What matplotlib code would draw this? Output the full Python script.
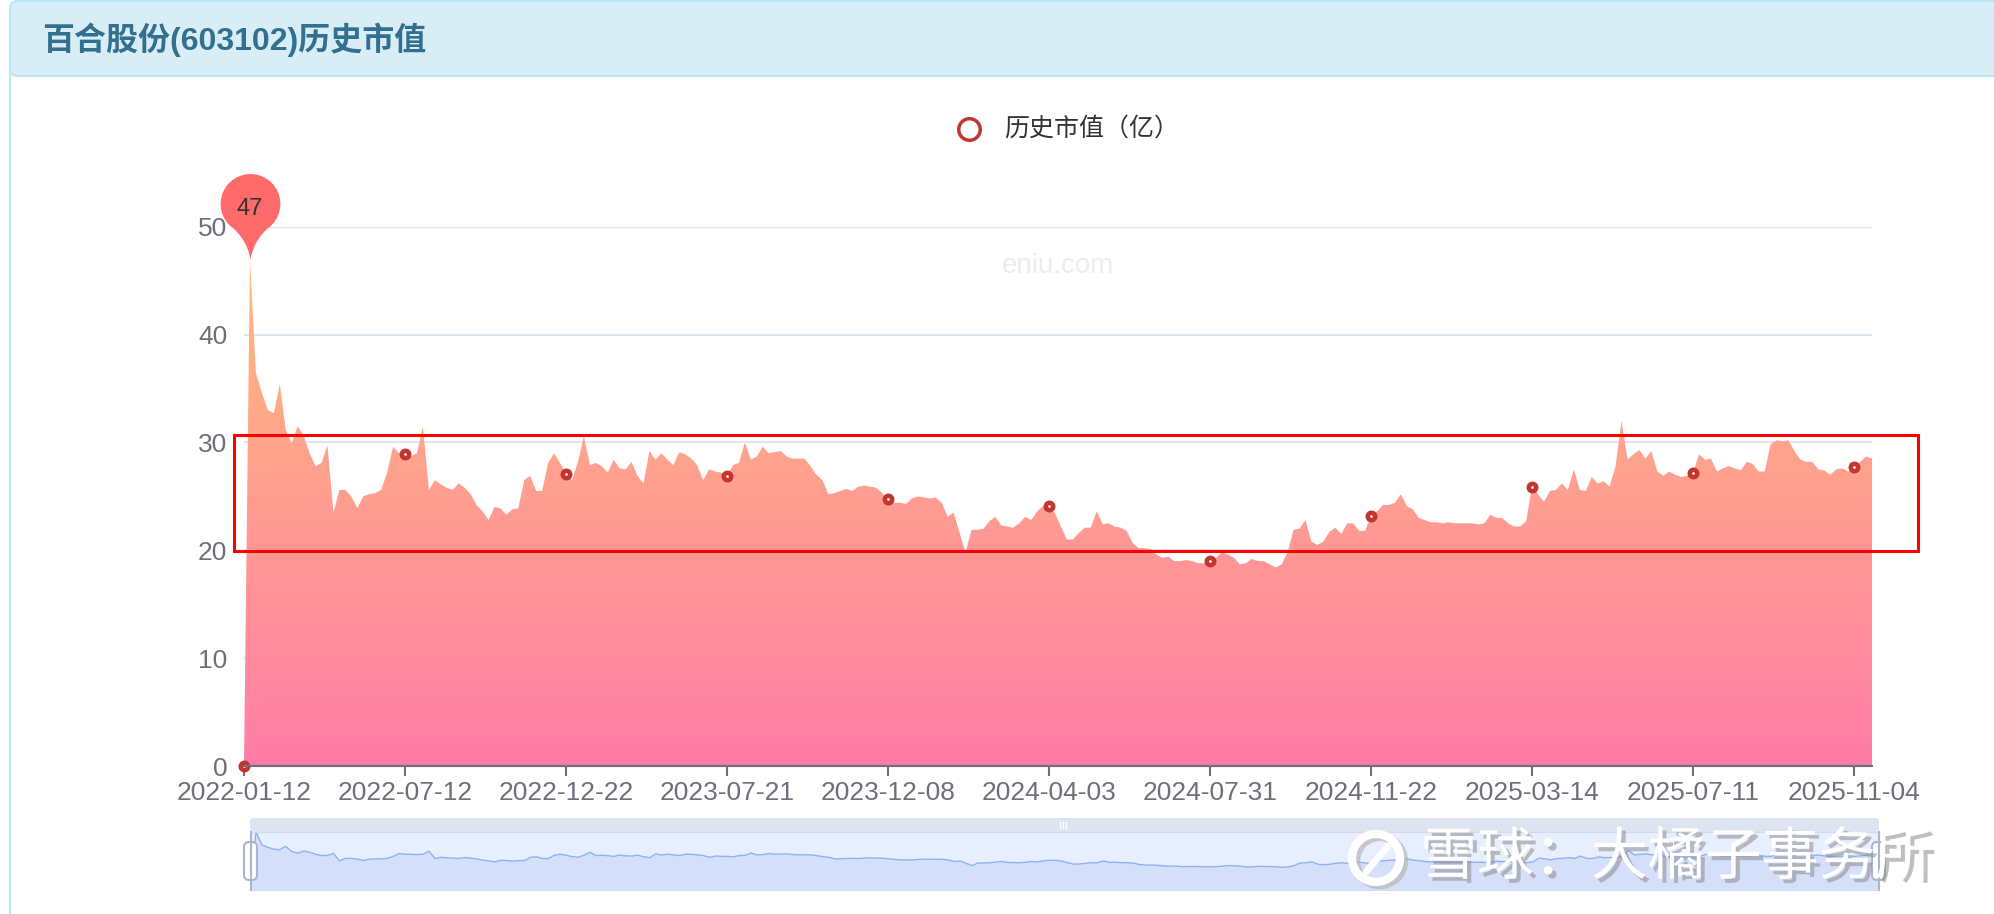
import numpy as np
import matplotlib.pyplot as plt
from matplotlib.path import Path
from matplotlib.patches import Rectangle, FancyBboxPatch, Circle
from matplotlib.colors import LinearSegmentedColormap
import matplotlib.patheffects as pe

plt.rcParams['font.family'] = ['Liberation Sans', 'Noto Sans CJK SC', 'DejaVu Sans']

# Chart data (market value, 100 million CNY), one point per sample
title = '百合股份(603102)历史市值'
series_name = '历史市值（亿）'
tick_labels = ['2022-01-12', '2022-07-12', '2022-12-22', '2023-07-21', '2023-12-08',
               '2024-04-03', '2024-07-31', '2024-11-22', '2025-03-14', '2025-07-11',
               '2025-11-04']
tick_step = 27
values = [0, 47.0, 36.4, 34.6, 33.0, 32.7, 35.4, 31.2, 29.9, 31.5,
          30.6, 29.0, 27.8, 28.1, 29.7, 23.5, 25.6, 25.6, 25.0, 23.9,
          25.0, 25.2, 25.3, 25.6, 27.2, 29.6, 29.0, 28.9, 28.7, 29.0,
          31.5, 25.6, 26.5, 26.1, 25.8, 25.6, 26.2, 25.8, 25.2, 24.2,
          23.6, 22.8, 24.0, 23.9, 23.3, 23.8, 23.9, 26.5, 26.9, 25.5,
          25.5, 28.1, 29.0, 28.1, 27.1, 26.5, 28.2, 30.6, 27.9, 28.1,
          27.8, 27.2, 28.4, 27.6, 27.5, 28.2, 26.9, 26.2, 29.2, 28.4,
          29.0, 28.4, 27.9, 29.1, 28.9, 28.5, 27.9, 26.5, 27.5, 27.3,
          27.2, 26.9, 27.9, 28.1, 30.0, 28.4, 28.7, 29.6, 29.0, 29.1,
          29.2, 28.7, 28.5, 28.5, 28.5, 27.8, 27.0, 26.5, 25.2, 25.3,
          25.5, 25.7, 25.5, 25.9, 26.0, 25.9, 25.8, 25.3, 24.8, 24.4,
          24.4, 24.3, 24.8, 25.0, 24.9, 24.8, 24.9, 24.4, 23.1, 23.5,
          21.6, 19.8, 21.9, 21.9, 22.0, 22.7, 23.1, 22.3, 22.2, 22.1,
          22.5, 23.1, 22.8, 23.6, 24.1, 24.1, 23.4, 22.2, 21.0, 21.0,
          21.6, 22.1, 22.1, 23.6, 22.4, 22.5, 22.2, 22.1, 21.8, 20.7,
          20.2, 20.2, 20.1, 19.6, 19.3, 19.4, 19.0, 19.0, 19.1, 19.0,
          18.8, 18.8, 19.0, 19.3, 19.8, 19.6, 19.3, 18.7, 18.8, 19.2,
          19.0, 19.0, 18.7, 18.4, 18.7, 19.8, 21.9, 22.0, 22.8, 20.8,
          20.5, 20.8, 21.7, 22.1, 21.5, 22.5, 22.5, 21.8, 21.8, 23.2,
          23.6, 24.2, 24.2, 24.4, 25.2, 24.1, 23.8, 23.0, 22.8, 22.6,
          22.6, 22.5, 22.6, 22.5, 22.5, 22.5, 22.5, 22.4, 22.5, 23.3,
          23.0, 23.0, 22.5, 22.2, 22.2, 22.7, 25.9, 25.2, 24.5, 25.5,
          25.6, 26.2, 25.6, 27.5, 25.6, 25.5, 26.8, 26.2, 26.4, 25.9,
          27.8, 32.0, 28.4, 28.9, 29.3, 28.5, 29.2, 27.3, 26.9, 27.3,
          27.0, 26.8, 26.9, 27.2, 28.9, 28.4, 28.5, 27.3, 27.6, 27.8,
          27.6, 27.4, 28.2, 28.0, 27.3, 27.3, 29.8, 30.2, 30.1, 30.2,
          29.2, 28.4, 28.2, 28.2, 27.5, 27.4, 27.0, 27.5, 27.6, 27.3,
          27.7, 28.2, 28.7, 28.5]

x = np.arange(len(values))
vals = np.array(values)
tick_idx = x[::tick_step][:len(tick_labels)]

W, H = 1994, 914
fig = plt.figure(figsize=(W / 100, H / 100), dpi=100)


def px_axes(x0, y0, x1, y1, **kw):
    # axes placed by pixel box (top-left origin)
    return fig.add_axes([x0 / W, 1 - y1 / H, (x1 - x0) / W, (y1 - y0) / H], **kw)


# page background: card + header
bg = fig.add_axes([0, 0, 1, 1], zorder=0)
bg.set_xlim(0, W)
bg.set_ylim(H, 0)
bg.axis('off')
bg.add_patch(FancyBboxPatch((10, 1), W + 40, H + 40, boxstyle='round,pad=0,rounding_size=8',
                            fc='white', ec='#bce8f1', lw=1.5))
bg.add_patch(FancyBboxPatch((10, 1), W + 40, 75, boxstyle='round,pad=0,rounding_size=8',
                            fc='#d9edf7', ec='#bce8f1', lw=1.5))
bg.text(42, 40, title, fontsize=23, fontweight='bold', color='#31708f', va='center')
bg.text(1058, 266, 'eniu.com', fontsize=20, color='#ececec', ha='center', va='center')

# main chart
ax = px_axes(244, 226.7, 1872, 766, zorder=2)
poly = ax.fill_between(x, vals, 0, facecolor='none', edgecolor='none')
top_c = np.array([255, 158, 68]) / 255 * 0.7 + 0.3
bot_c = np.array([255, 70, 131]) / 255 * 0.7 + 0.3
cmap = LinearSegmentedColormap.from_list('area', [bot_c, top_c])
grad = np.linspace(0, 1, 256).reshape(-1, 1)
im = ax.imshow(grad, cmap=cmap, origin='lower', aspect='auto',
               extent=[0, x[-1], 0, vals.max()], zorder=2)
im.set_clip_path(poly.get_paths()[0], transform=ax.transData)

# symbols shown at the label positions
ax.plot(tick_idx, vals[tick_idx], 'o', ms=5.3, mfc='white', mec='#c23531', mew=3.3,
        zorder=4, clip_on=False)

# pin marker at the maximum
r, cy = 1.0, 1.86
th = np.radians(np.linspace(-55, 235, 80))
arc = np.column_stack([r * np.cos(th), cy + r * np.sin(th)])
t = np.linspace(0, 1, 25)[:, None]


def quad(p0, c, p1):
    p0, c, p1 = map(np.array, (p0, c, p1))
    return (1 - t) ** 2 * p0 + 2 * (1 - t) * t * c + t ** 2 * p1


left = quad(arc[-1], (-0.1, 0.6), (0, 0))
right = quad((0, 0), (0.1, 0.6), arc[0])
verts = np.vstack([arc, left[1:], right[1:-1], arc[:1]])
pin = Path(verts, closed=True)
imax = int(vals.argmax())
ax.plot(imax, vals[imax], marker=pin, ms=123, mfc='#ff6a6a', mec='none',
        zorder=6, clip_on=False)
ax.annotate(f'{vals[imax]:.0f}', (imax, vals[imax]), xytext=(0, 36), textcoords='offset points',
            ha='center', va='center', fontsize=17, color='#333333', zorder=7)

ax.set_xlim(0, x[-1])
ax.set_ylim(0, 50)
ax.set_yticks(range(0, 51, 10))
ax.set_xticks(tick_idx)
ax.set_xticklabels(tick_labels)
ax.set_facecolor('none')
for s in ['left', 'right', 'top']:
    ax.spines[s].set_visible(False)
ax.spines['bottom'].set_color('#6e7079')
ax.spines['bottom'].set_linewidth(1.5)
ax.spines['bottom'].set_zorder(5)
ax.grid(axis='y', color='#e0e6f1', lw=1.5)
ax.set_axisbelow(True)
ax.tick_params(axis='x', length=7, width=1.5, color='#6e7079', labelsize=19,
               labelcolor='#6e7079', pad=4)
ax.tick_params(axis='y', length=0, labelsize=19, labelcolor='#6e7079', pad=12)

# data zoom slider
sl = px_axes(250, 832, 1879, 890, zorder=2)
sl.fill_between(x, vals, 0, color='#d4e0fa', lw=0)
sl.plot(x, vals, color='#8fb1f5', lw=1)
sl.set_xlim(0, x[-1])
sl.set_ylim(0, vals.max())
sl.set_facecolor('#e7eefd')
sl.set_xticks([])
sl.set_yticks([])
for s in sl.spines.values():
    s.set_color('#d2dbee')

# overlay: slider parts, legend, annotation box, watermark
ov = fig.add_axes([0, 0, 1, 1], zorder=10)
ov.set_xlim(0, W)
ov.set_ylim(H, 0)
ov.axis('off')
ov.patch.set_alpha(0)

ov.add_patch(FancyBboxPatch((250, 818), 1629, 14, boxstyle='round,pad=0,rounding_size=3',
                            fc='#dde3f0', ec='none'))
for dx in (-3, 0, 3):
    ov.plot([1063 + dx, 1063 + dx], [822, 828], color='white', lw=1)
for hx in (250.5, 1878.5):
    ov.plot([hx, hx], [832, 890], color='#aab6d0', lw=1.5)
    ov.add_patch(FancyBboxPatch((hx - 6.5, 842), 13, 38, boxstyle='round,pad=0,rounding_size=5',
                                fc='white', ec='#aab6d0', lw=1.5))

# legend
ov.plot(968.5, 129, 'o', ms=15.5, mfc='white', mec='#c23531', mew=2.5)
ov.text(1004, 129, series_name, fontsize=18, color='#333333', va='center')

# red highlight box
ov.add_patch(Rectangle((234, 435), 1918 - 234, 551 - 435, fill=False, ec='#ff0000', lw=2.2))

# bottom-right watermark
wm_fx = [pe.SimplePatchShadow(offset=(3, -3), shadow_rgbFace='#8c8c8c', alpha=0.55), pe.Normal()]
ov.text(1420, 858, '雪球：大橘子事务所', fontsize=41, color='white', va='center',
        family=['Noto Sans CJK SC'], path_effects=wm_fx)
ov.add_patch(Circle((1380, 861), 24, fill=False, ec='#b0b0b0', lw=6, alpha=0.6))
ov.add_patch(Circle((1376, 858), 24, fill=False, ec='white', lw=6))
ov.plot([1366, 1388], [872, 846], color='white', lw=5, solid_capstyle='round')

fig.savefig('out.png', dpi=100)
